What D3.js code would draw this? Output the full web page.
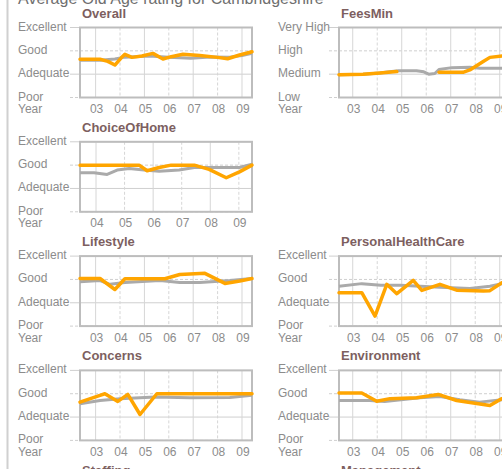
<!DOCTYPE html>
<html>
<head>
<meta charset="utf-8">
<script src="https://cdn.jsdelivr.net/npm/d3@7"></script>
<style>
  body { margin: 0; background: #fff; }
  svg { display: block; font-family: "Liberation Sans", Arial, sans-serif; }
  .lvl, .yr { fill: #8c8c8c; font-size: 12px; }
  .ptitle { fill: #7d5f5f; font-size: 13px; font-weight: bold; }
</style>
</head>
<body>
<div id="chart"></div>
<script>
// level names and ticks
const ratingLevels = ["Poor", "Adequate", "Good", "Excellent"];
const feeLevels = ["Low", "Medium", "High", "Very High"];
const yearTicks = [2003, 2004, 2005, 2006, 2007, 2008, 2009];
const choiceYearTicks = [2004, 2005, 2006, 2007, 2008, 2009];

// series: [year, level] with 1 = lowest level, 4 = highest
const overallMain = [[2002.36,2.64],[2003.18,2.64],[2003.5,2.55],[2003.79,2.39],[2004.05,2.7],[2004.2,2.85],[2004.49,2.72],[2004.9,2.78],[2005.35,2.89],[2005.76,2.65],[2006.1,2.75],[2006.58,2.85],[2007.27,2.8],[2008.0,2.72],[2008.41,2.66],[2008.9,2.82],[2009.41,2.96]];
const overallComp = [[2002.36,2.6],[2003.18,2.6],[2003.79,2.65],[2004.2,2.73],[2005.2,2.78],[2006.0,2.72],[2006.9,2.68],[2007.7,2.74],[2008.5,2.73],[2009.0,2.8],[2009.41,2.9]];

const feesMain = [[2002.44,1.98],[2003.42,2.0],[2004.11,2.05],[2004.8,2.11],[2005.5,null],[2006.52,2.08],[2007.5,2.08],[2007.78,2.18],[2008.31,2.53],[2008.6,2.72],[2009.1,2.78],[2009.45,2.8]];
const feesComp = [[2002.44,1.98],[2003.42,2.0],[2004.11,2.05],[2004.5,2.1],[2004.88,2.15],[2005.6,2.15],[2005.9,2.1],[2006.1,2.0],[2006.35,2.03],[2006.52,2.2],[2007.05,2.28],[2007.78,2.3],[2008.2,2.25],[2009.45,2.25]];

const choiceMain = [[2003.44,3.0],[2005.51,3.0],[2005.79,2.76],[2006.21,2.9],[2006.63,3.0],[2007.44,3.0],[2007.96,2.82],[2008.56,2.46],[2009.02,2.71],[2009.46,3.0]];
const choiceComp = [[2003.44,2.67],[2003.93,2.67],[2004.39,2.6],[2004.74,2.79],[2005.16,2.86],[2005.68,2.79],[2006.21,2.74],[2006.91,2.79],[2007.44,2.9],[2009.02,2.9],[2009.46,3.04]];

const lifestyleMain = [[2002.36,3.04],[2003.18,3.04],[2003.79,2.57],[2004.2,3.03],[2005.84,3.03],[2006.45,3.21],[2007.48,3.26],[2008.3,2.83],[2008.91,2.93],[2009.41,3.04]];
const lifestyleComp = [[2002.36,2.9],[2003.18,2.95],[2003.59,2.79],[2004.2,2.87],[2005.64,2.95],[2006.45,2.87],[2007.27,2.87],[2008.5,2.95],[2009.41,3.04]];

const healthMain = [[2002.44,2.43],[2003.37,2.43],[2003.91,1.43],[2004.39,2.79],[2004.8,2.39],[2005.47,2.96],[2005.82,2.53],[2006.56,2.79],[2007.24,2.54],[2008.33,2.5],[2008.6,2.52],[2009.09,2.86],[2009.45,2.95]];
const healthComp = [[2002.44,2.71],[2003.37,2.82],[2004.15,2.75],[2004.95,2.75],[2006.56,2.67],[2007.78,2.61],[2008.6,2.71],[2009.09,2.82],[2009.45,2.85]];

const concernsMain = [[2002.36,2.64],[2003.18,2.93],[2003.38,3.0],[2003.91,2.67],[2004.32,2.97],[2004.82,2.11],[2005.51,3.0],[2009.41,3.0]];
const concernsComp = [[2002.36,2.57],[2003.18,2.71],[2004.0,2.79],[2004.82,2.83],[2005.43,2.86],[2006.86,2.83],[2008.5,2.84],[2009.41,2.93]];

const environmentMain = [[2002.44,3.03],[2003.37,3.03],[2003.98,2.68],[2004.52,2.79],[2005.61,2.83],[2006.49,2.97],[2007.24,2.71],[2008.33,2.54],[2008.6,2.5],[2009.09,2.79],[2009.45,2.9]];
const environmentComp = [[2002.44,2.71],[2003.7,2.71],[2004.3,2.67],[2005.73,2.83],[2006.56,2.88],[2007.37,2.74],[2008.18,2.64],[2009.09,2.74],[2009.45,2.8]];

const panels = [
  {title: "Overall", col: 0, row: 0, levels: ratingLevels, ticks: yearTicks, dom: [2002.36, 2009.41], main: overallMain, comp: overallComp},
  {title: "FeesMin", col: 1, row: 0, levels: feeLevels, ticks: yearTicks, dom: [2002.44, 2009.46], main: feesMain, comp: feesComp},
  {title: "ChoiceOfHome", col: 0, row: 1, levels: ratingLevels, ticks: choiceYearTicks, dom: [2003.44, 2009.46], main: choiceMain, comp: choiceComp},
  {title: "Lifestyle", col: 0, row: 2, levels: ratingLevels, ticks: yearTicks, dom: [2002.36, 2009.41], main: lifestyleMain, comp: lifestyleComp},
  {title: "PersonalHealthCare", col: 1, row: 2, levels: ratingLevels, ticks: yearTicks, dom: [2002.44, 2009.46], main: healthMain, comp: healthComp},
  {title: "Concerns", col: 0, row: 3, levels: ratingLevels, ticks: yearTicks, dom: [2002.36, 2009.41], main: concernsMain, comp: concernsComp},
  {title: "Environment", col: 1, row: 3, levels: ratingLevels, ticks: yearTicks, dom: [2002.44, 2009.46], main: environmentMain, comp: environmentComp},
  {title: "Staffing", col: 0, row: 4, levels: ratingLevels, ticks: yearTicks, dom: [2002.36, 2009.41], main: [], comp: []},
  {title: "Management", col: 1, row: 4, levels: ratingLevels, ticks: yearTicks, dom: [2002.44, 2009.46], main: [], comp: []}
];

// layout
const W = 502, H = 469;
const boxLeft = [80, 339], labelLeft = [18, 278];
const boxW = 172, boxH = 70, rowTop0 = 27.5, rowStep = 114.3;

const svg = d3.select("#chart").append("svg")
    .attr("width", W).attr("height", H);

svg.append("rect").attr("width", W).attr("height", H).attr("fill", "#fff");

// outer frame edge and cut-off page title
svg.append("line")
    .attr("x1", 7.5).attr("x2", 7.5).attr("y1", 0).attr("y2", H)
    .attr("stroke", "#d0d0d0").attr("stroke-width", 2);
svg.append("text")
    .attr("x", 18).attr("y", 4)
    .attr("fill", "#6f6f6f").style("font-size", "16px")
    .text("Average Old Age rating for Cambridgeshire");

panels.forEach(p => {
  const x0 = boxLeft[p.col], y0 = rowTop0 + p.row * rowStep;
  const g = svg.append("g").attr("transform", `translate(${x0},${y0})`);

  const x = d3.scaleLinear().domain(p.dom).range([0, boxW]);
  const y = d3.scaleLinear().domain([1, 4]).range([boxH, 0]);

  // horizontal grid, poking out left of the box
  g.selectAll(".hg").data(d3.range(1, 5)).join("line")
      .attr("x1", -10).attr("x2", boxW)
      .attr("y1", d => y(d)).attr("y2", d => y(d))
      .attr("stroke", "#cfcfcf")
      .attr("stroke-dasharray", d => d % 2 ? "3,2" : null);

  // vertical grid
  g.selectAll(".vg").data(p.ticks).join("line")
      .attr("x1", d => x(d)).attr("x2", d => x(d))
      .attr("y1", 0).attr("y2", boxH)
      .attr("stroke", "#d6d6d6")
      .attr("stroke-dasharray", (d, i) => i % 2 ? "3,2" : null);

  // box
  g.append("rect")
      .attr("width", boxW).attr("height", boxH)
      .attr("fill", "none").attr("stroke", "#bdbdbd").attr("stroke-width", 2);

  // title
  g.append("text").attr("class", "ptitle")
      .attr("x", 2).attr("y", -10)
      .text(p.title);

  // level labels
  const lx = labelLeft[p.col] - x0;
  g.selectAll(".lvl").data(p.levels).join("text")
      .attr("class", "lvl")
      .attr("x", lx).attr("y", (d, i) => y(i + 1) + 3)
      .text(d => d);

  g.append("text").attr("class", "yr")
      .attr("x", lx).attr("y", boxH + 15.5)
      .text("Year");

  g.selectAll(".tk").data(p.ticks).join("text")
      .attr("class", "yr")
      .attr("text-anchor", "middle")
      .attr("x", d => x(d) + 1).attr("y", boxH + 15.5)
      .text(d => String(d % 100).padStart(2, "0"));

  const line = d3.line()
      .defined(d => d[1] != null)
      .x(d => x(d[0])).y(d => y(d[1]));

  g.append("path").datum(p.comp)
      .attr("fill", "none").attr("stroke", "#aaaaaa")
      .attr("stroke-width", 3).attr("stroke-linejoin", "round")
      .attr("d", line);

  g.append("path").datum(p.main)
      .attr("fill", "none").attr("stroke", "#ffa500")
      .attr("stroke-width", 3.5).attr("stroke-linejoin", "round")
      .attr("stroke-linecap", "round")
      .attr("d", line);
});
</script>
</body>
</html>
